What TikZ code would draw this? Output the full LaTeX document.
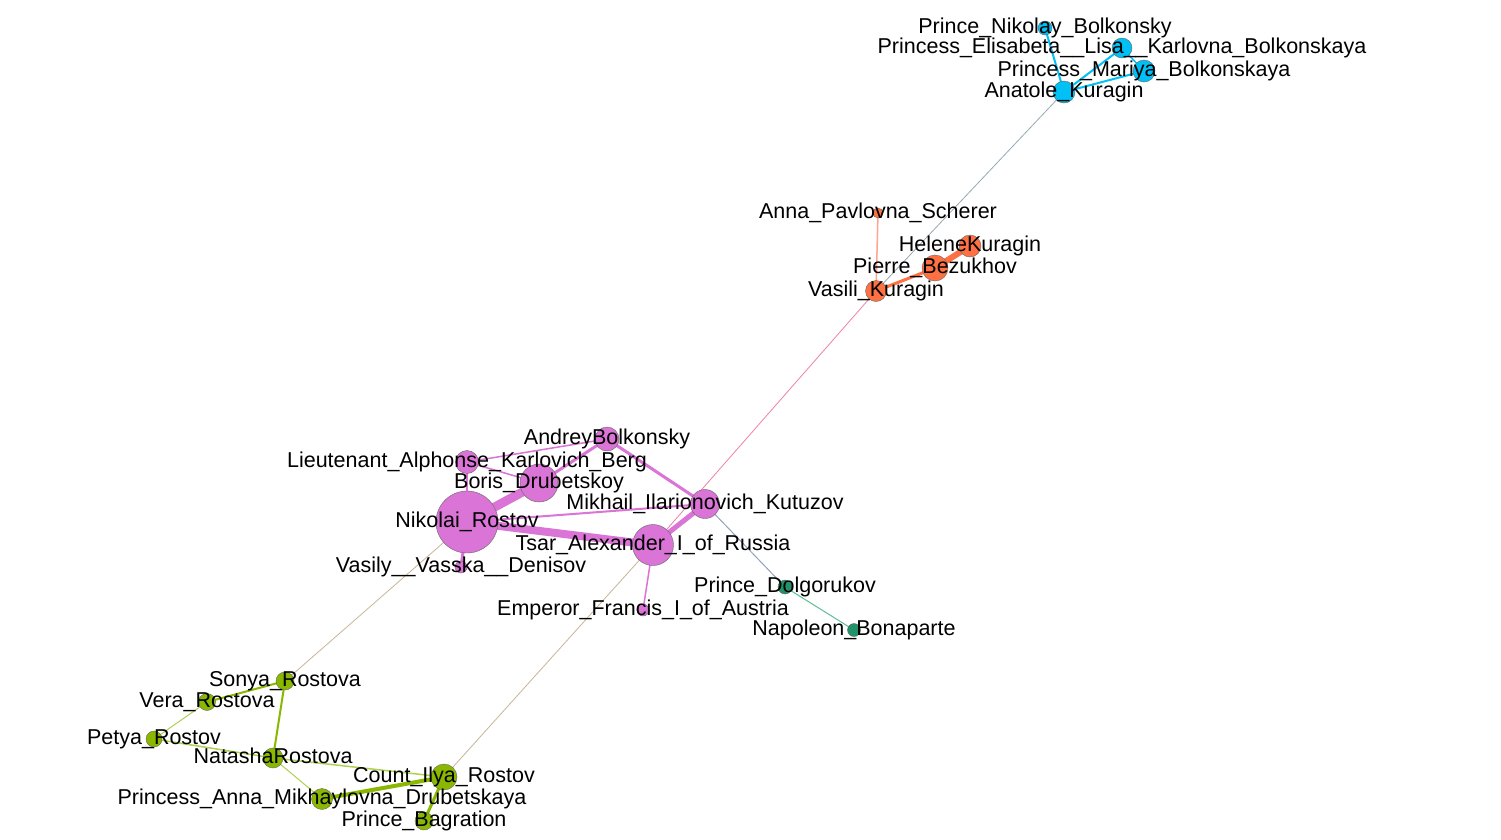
\documentclass[tikz,border=0pt]{standalone}
\usepackage{fontspec}
\setmainfont{Liberation Sans}
\usetikzlibrary{backgrounds}
\definecolor{cvio}{RGB}{218,116,214}
\definecolor{cblue}{RGB}{0,192,245}
\definecolor{cora}{RGB}{255,112,67}
\definecolor{cgreen}{RGB}{138,184,0}
\definecolor{cteal}{RGB}{35,145,105}
\definecolor{elora}{RGB}{255,165,145}
\definecolor{elgreen}{RGB}{175,208,80}
\definecolor{egray}{RGB}{150,168,178}
\definecolor{epink}{RGB}{240,130,165}
\definecolor{etan}{RGB}{200,182,150}
\definecolor{egblue}{RGB}{150,160,192}
\definecolor{elteal}{RGB}{95,190,150}
\tikzset{
  vert/.style={circle,draw=black!60,line width=0.4pt,inner sep=0pt,minimum size=#1},
  vio/.style={vert=#1,fill=cvio},
  blu/.style={vert=#1,fill=cblue},
  ora/.style={vert=#1,fill=cora},
  grn/.style={vert=#1,fill=cgreen},
  tea/.style={vert=#1,fill=cteal},
  lbl/.style={inner sep=0pt,text height=15.4pt,text depth=4pt,anchor=center,font=\fontsize{21.5pt}{25pt}\selectfont,text=black},
  edge/.style={line width=#1,line cap=round},
}
\begin{document}
\begin{tikzpicture}[x=1pt,y=-1pt]
\useasboundingbox (0,0) rectangle (1501,839);
% blue cluster
\node[blu=14pt] (nb) at (1045,28) {};
\node[blu=20pt] (lisa) at (1122,48) {};
\node[blu=22pt] (mar) at (1144,71) {};
\node[blu=22pt] (ana) at (1064,92) {};
% orange cluster
\node[ora=10pt] (aps) at (878,213) {};
\node[ora=22pt] (hel) at (970,246) {};
\node[ora=26pt] (pie) at (935,268) {};
\node[ora=21pt] (vas) at (876,291) {};
% violet cluster
\node[vio=24pt] (and) at (607,439) {};
\node[vio=23pt] (berg) at (467,462) {};
\node[vio=38pt] (bor) at (539,483) {};
\node[vio=62pt] (nik) at (467,522) {};
\node[vio=12pt] (den) at (461,567) {};
\node[vio=29pt] (kut) at (705,504) {};
\node[vio=41pt] (tsar) at (653,545) {};
\node[vio=12pt] (emp) at (643,610) {};
% teal
\node[tea=14pt] (dol) at (785,587) {};
\node[tea=13pt] (nap) at (854,630) {};
% green
\node[grn=18pt] (son) at (285,681) {};
\node[grn=17pt] (ver) at (207,702) {};
\node[grn=16pt] (pet) at (154,739) {};
\node[grn=20pt] (nat) at (273,758) {};
\node[grn=21pt] (anm) at (322,799) {};
\node[grn=26pt] (ily) at (444,777) {};
\node[grn=18pt] (bag) at (424,821) {};
\begin{pgfonlayer}{background}
\fill[white] (0,0) rectangle (1501,839);
% blue edges
\draw[edge=2pt,cblue] (nb.center) -- (ana.center);
\draw[edge=2pt,cblue] (lisa.center) -- (ana.center);
\draw[edge=2pt,cblue] (mar.center) -- (ana.center);
\draw[edge=1.5pt,cblue] (lisa.center) -- (mar.center);
% cross edges
\draw[edge=0.8pt,egray] (ana.center) -- (vas.center);
\draw[edge=0.8pt,epink] (vas.center) -- (tsar.center);
\draw[edge=1pt,egblue] (kut.center) -- (dol.center);
\draw[edge=1pt,elteal] (dol.center) -- (nap.center);
\draw[edge=0.8pt,etan] (nik.center) -- (son.center);
\draw[edge=0.8pt,etan] (tsar.center) -- (ily.center);
% orange edges
\draw[edge=1.5pt,elora] (aps.center) -- (vas.center);
\draw[edge=3pt,cora] (vas.center) -- (pie.center);
\draw[edge=6pt,cora] (pie.center) -- (hel.center);
% violet edges
\draw[edge=9pt,cvio] (nik.center) -- (bor.center);
\draw[edge=8pt,cvio] (nik.center) -- (tsar.center);
\draw[edge=2pt,cvio] (nik.center) -- (kut.center);
\draw[edge=2.5pt,cvio] (nik.center) -- (berg.center);
\draw[edge=3pt,cvio] (nik.center) -- (den.center);
\draw[edge=1.5pt,cvio] (berg.center) -- (bor.center);
\draw[edge=1.5pt,cvio] (berg.center) -- (and.center);
\draw[edge=3pt,cvio] (bor.center) -- (and.center);
\draw[edge=3pt,cvio] (and.center) -- (kut.center);
\draw[edge=5pt,cvio] (kut.center) -- (tsar.center);
\draw[edge=1.5pt,cvio] (tsar.center) -- (emp.center);
% green edges
\draw[edge=2pt,cgreen] (son.center) -- (ver.center);
\draw[edge=2pt,cgreen] (son.center) -- (nat.center);
\draw[edge=1pt,elgreen] (ver.center) -- (pet.center);
\draw[edge=1.5pt,elgreen] (pet.center) -- (nat.center);
\draw[edge=1.5pt,elgreen] (nat.center) -- (ily.center);
\draw[edge=1pt,elgreen] (nat.center) -- (anm.center);
\draw[edge=4pt,cgreen] (anm.center) -- (ily.center);
\draw[edge=3pt,cgreen] (ily.center) -- (bag.center);
\end{pgfonlayer}
% labels
\node[lbl] (lnb) at (nb) {Prince\_Nikolay\_Bolkonsky};
\node[lbl] (llisa) at (lisa) {Princess\_Elisabeta\_\_Lisa\_\_Karlovna\_Bolkonskaya};
\node[lbl] (lmar) at (mar) {Princess\_Mariya\_Bolkonskaya};
\node[lbl] (lana) at (ana) {Anatole\_Kuragin};
\node[lbl] (laps) at (aps) {Anna\_Pavlovna\_Scherer};
\node[lbl] (lhel) at (hel) {HeleneKuragin};
\node[lbl] (lpie) at (pie) {Pierre\_Bezukhov};
\node[lbl] (lvas) at (vas) {Vasili\_Kuragin};
\node[lbl] (land) at (and) {AndreyBolkonsky};
\node[lbl] (lberg) at (berg) {Lieutenant\_Alphonse\_Karlovich\_Berg};
\node[lbl] (lbor) at (bor) {Boris\_Drubetskoy};
\node[lbl] (lnik) at (nik) {Nikolai\_Rostov};
\node[lbl] (lden) at (den) {Vasily\_\_Vasska\_\_Denisov};
\node[lbl] (lkut) at (kut) {Mikhail\_Ilarionovich\_Kutuzov};
\node[lbl] (ltsar) at (tsar) {Tsar\_Alexander\_I\_of\_Russia};
\node[lbl] (lemp) at (emp) {Emperor\_Francis\_I\_of\_Austria};
\node[lbl] (ldol) at (dol) {Prince\_Dolgorukov};
\node[lbl] (lnap) at (nap) {Napoleon\_Bonaparte};
\node[lbl] (lson) at (son) {Sonya\_Rostova};
\node[lbl] (lver) at (ver) {Vera\_Rostova};
\node[lbl] (lpet) at (pet) {Petya\_Rostov};
\node[lbl] (lnat) at (nat) {NatashaRostova};
\node[lbl] (lanm) at (anm) {Princess\_Anna\_Mikhaylovna\_Drubetskaya};
\node[lbl] (lily) at (ily) {Count\_Ilya\_Rostov};
\node[lbl] (lbag) at (bag) {Prince\_Bagration};
\end{tikzpicture}
\end{document}
